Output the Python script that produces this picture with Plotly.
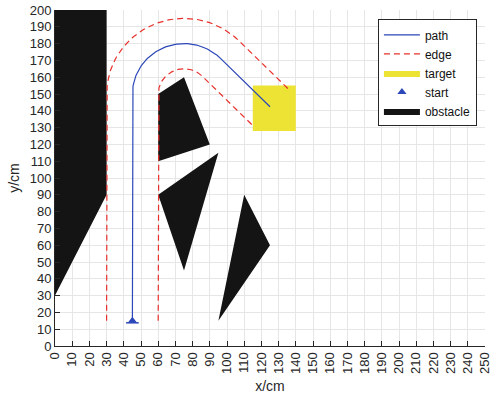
import numpy as np
import plotly.graph_objects as go

# Route geometry (cm)
start = (45, 15)
turn_center = (75, 150)
turn_radius = 30
exit_angle_deg = 45
path_end_x = 125
edge_offset = 15

# Target zone
target_x = [115, 140, 140, 115, 115]
target_y = [128, 128, 155, 155, 128]

# Obstacles (polygon vertices)
obstacles = [
    ([0, 30, 30, 0], [200, 200, 90, 30]),
    ([60, 75, 90, 60], [150, 160, 120, 110]),
    ([60, 95, 75], [90, 115, 45]),
    ([110, 125, 95], [90, 60, 15]),
]

x_ticks = list(range(0, 251, 10))
y_ticks = list(range(0, 201, 10))


def route(offset):
    """Path shifted sideways by `offset` (positive = outside of the turn)."""
    r = turn_radius + offset
    cx, cy = turn_center
    th = np.radians(np.linspace(180, exit_angle_deg, 80))
    ax = cx + r * np.cos(th)
    ay = cy + r * np.sin(th)
    # straight leg leaving the arc along the tangent direction
    t = np.radians(exit_angle_deg)
    tx, ty = np.sin(t), -np.cos(t)
    length = (path_end_x - (cx + turn_radius * np.cos(t))) / tx
    ex = ax[-1] + length * tx
    ey = ay[-1] + length * ty
    xs = np.concatenate([[start[0] - offset], ax, [ex]])
    ys = np.concatenate([[start[1]], ay, [ey]])
    return xs, ys


px, py = route(0)
ox, oy = route(edge_offset)
ix, iy = route(-edge_offset)

ob_x, ob_y = [], []
for xs, ys in obstacles:
    ob_x += xs + [xs[0], None]
    ob_y += ys + [ys[0], None]

blue = "#2b47b8"
fig = go.Figure()

# filled shapes first so the lines sit on top of them
fig.add_trace(go.Scatter(x=ob_x, y=ob_y, mode="lines", fill="toself",
                         fillcolor="#141414", line=dict(color="#141414", width=0),
                         name="obstacle", legendrank=5))
fig.add_trace(go.Scatter(x=target_x, y=target_y, mode="lines", fill="toself",
                         fillcolor="#ece334", line=dict(color="#ece334", width=0),
                         name="target", legendrank=3))
fig.add_trace(go.Scatter(x=px, y=py, mode="lines", name="path",
                         line=dict(color=blue, width=1.2), legendrank=1))
fig.add_trace(go.Scatter(x=np.concatenate([ox, [None], ix]),
                         y=np.concatenate([oy, [None], iy]),
                         mode="lines", name="edge", legendrank=2,
                         line=dict(color="#e8302c", width=1.2, dash="6px,4px")))
fig.add_trace(go.Scatter(x=[start[0]], y=[start[1]], mode="markers", name="start",
                         legendrank=4,
                         marker=dict(symbol="triangle-up", size=8, color=blue)))
fig.add_trace(go.Scatter(x=[start[0]], y=[start[1] - 1.2], mode="markers",
                         showlegend=False, hoverinfo="skip",
                         marker=dict(symbol="line-ew", size=9,
                                     line=dict(color=blue, width=1.5))))

font = "Liberation Sans, Arial, sans-serif"
fig.update_layout(
    width=491, height=399,
    margin=dict(l=55, r=6, t=10, b=53),
    plot_bgcolor="white", paper_bgcolor="white",
    font=dict(family=font, size=13, color="#262626"),
    showlegend=True,
    legend=dict(x=0.751, y=0.972, xanchor="left", yanchor="top",
                bgcolor="white", bordercolor="#262626", borderwidth=1,
                font=dict(size=12, color="#111111"),
                tracegroupgap=0, itemwidth=36),
    xaxis=dict(range=[0, 250], tickvals=x_ticks, ticktext=[str(v) for v in x_ticks],
               tickangle=-90, ticks="inside", ticklen=5, tickcolor="#262626",
               ticklabeloverflow="allow", automargin=False,
               showline=True, linecolor="#262626", linewidth=1,
               showgrid=True, gridcolor="#e6e6e6", gridwidth=1, zeroline=False,
               title=dict(text="x/cm", font=dict(size=14), standoff=8)),
    yaxis=dict(range=[0, 200], tickvals=y_ticks, ticktext=[str(v) for v in y_ticks],
               ticks="inside", ticklen=5, tickcolor="#262626",
               ticklabeloverflow="allow", automargin=False,
               showline=True, linecolor="#262626", linewidth=1,
               showgrid=True, gridcolor="#e6e6e6", gridwidth=1, zeroline=False,
               title=dict(text="y/cm", font=dict(size=14), standoff=6)),
)

fig.write_html("out.html")
